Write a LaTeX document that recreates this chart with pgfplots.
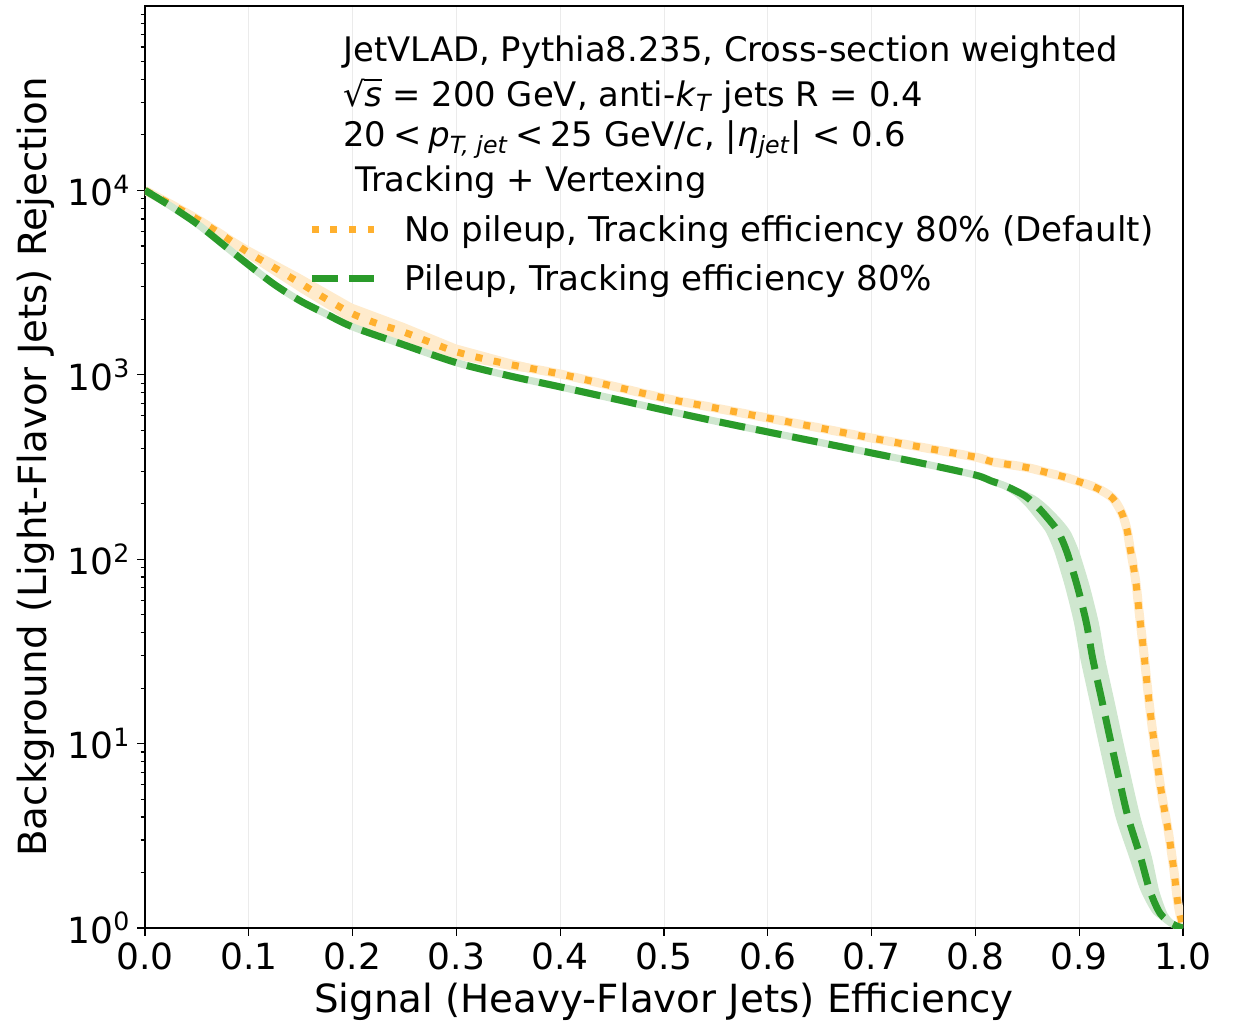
\documentclass[border=0pt]{standalone}
\usepackage{fontspec}
\setmainfont{DejaVu Sans}
\usepackage{pgfplots}
\usepackage{pgfplotstable}
\pgfplotsset{compat=1.18}

\definecolor{oline}{HTML}{FFB02E}
\definecolor{oband}{HTML}{FFEBCC}
\definecolor{gline}{HTML}{2A9B2A}
\definecolor{gband}{HTML}{CFE7CF}
\definecolor{gridc}{HTML}{EBEBEB}

% sqrt(s) set in the text font
\newcommand{\rts}{\mbox{√\kern-0.02em\rlap{\rule[0.74em]{0.52em}{0.055em}}\textit{s}}}

% ROC curve, no pileup (tracking efficiency 80%)
\pgfplotstableread{
x      y
0.000  10000
0.025  8400
0.050  7000
0.075  5700
0.100  4590
0.125  3800
0.150  3130
0.175  2570
0.200  2140
0.225  1885
0.250  1700
0.300  1333
0.350  1143
0.400  1010
0.450  870
0.500  748
0.550  660
0.600  583
0.650  515
0.700  454
0.750  403
0.800  358
0.817  337
0.850  314
0.867  297
0.885  280
0.901  262
0.917  243
0.932  215
0.941  178
0.946  145
0.949  115
0.952  93
0.955  72
0.958  50
0.962  32
0.966  19.6
0.970  12.6
0.975  7.9
0.980  5.1
0.986  3.3
0.991  2.1
0.995  1.37
1.000  1.0
}\nopileup

% ROC curve, with pileup (tracking efficiency 80%)
\pgfplotstableread{
x      y
0.000  10000
0.025  8200
0.050  6600
0.075  5100
0.100  3940
0.125  3080
0.150  2510
0.175  2130
0.200  1820
0.250  1450
0.300  1164
0.350  990
0.400  860
0.450  745
0.500  644
0.550  560
0.600  490
0.650  430
0.700  377
0.750  330
0.800  286
0.815  266
0.830  248
0.848  220
0.860  192
0.872  161
0.880  140
0.888  110
0.898  72
0.907  45
0.913  29
0.922  17
0.930  10.5
0.938  6.6
0.947  4.0
0.959  2.43
0.968  1.6
0.978  1.2
0.990  1.05
1.000  1.0
}\pileup

\begin{document}
\begin{tikzpicture}
\begin{axis}[
  name=ax,
  scale only axis,
  width=519pt, height=461pt,
  xmin=0, xmax=1, ymin=1, ymax=1e5,
  ymode=log,
  no markers,
  xtick={0,0.1,0.2,0.3,0.4,0.5,0.6,0.7,0.8,0.9,1.0},
  xticklabels={0.0,0.1,0.2,0.3,0.4,0.5,0.6,0.7,0.8,0.9,1.0},
  ytick={1,10,100,1000,10000},
  yticklabels={10\textsuperscript{0},10\textsuperscript{1},10\textsuperscript{2},10\textsuperscript{3},10\textsuperscript{4}},
  minor ytick={2,3,4,5,6,7,8,9,20,30,40,50,60,70,80,90,200,300,400,500,600,700,800,900,2000,3000,4000,5000,6000,7000,8000,9000,20000,30000,40000,50000,60000,70000,80000,90000},
  tick pos=left,
  tick align=outside,
  major tick length=3.8pt,
  minor tick length=2.2pt,
  every tick/.style={black, line width=0.6pt},
  axis line style={line width=0.8pt},
  xmajorgrids,
  ymajorgrids=false,
  major x grid style={gridc, line width=0.5pt},
  ticklabel style={font=\fontsize{18}{18}\selectfont},
  xlabel={Signal (Heavy-Flavor Jets) Efficiency},
  ylabel={Background (Light-Flavor Jets) Rejection},
  label style={font=\fontsize{19.4}{19.4}\selectfont},
  xlabel style={at={(axis description cs:0.5,-0.0911)}, anchor=base},
  ylabel style={at={(axis description cs:-0.0949,0.5)}, anchor=base},
  legend style={at={(axis description cs:0.157,0.7733)}, anchor=north west,
    draw=none, fill=none, inner sep=0pt, row sep=10pt, column sep=13.5pt,
    font=\fontsize{17.05}{17.05}\selectfont, nodes={inner sep=0pt}},
  legend cell align=left,
  legend image code/.code={\draw[#1] (0pt,0pt) -- (31pt,0pt);},
]
% uncertainty bands
\addplot[draw=none, fill=oband, forget plot] coordinates {
  (0,10000) (0.05,7330) (0.1,4975) (0.15,3512) (0.2,2429) (0.25,1907)
  (0.3,1461) (0.35,1225) (0.4,1045) (0.45,886) (0.5,748)
  (0.45,854) (0.4,976) (0.35,1066) (0.3,1216) (0.25,1515) (0.2,1885)
  (0.15,2790) (0.1,4234) (0.05,6686) (0,10000)} -- cycle;
\addplot[oband, line width=4.5pt, line join=round, smooth, tension=0.5, forget plot] table[x=x,y=y] {\nopileup};
\addplot[draw=none, fill=gband, smooth, tension=0.4, forget plot] coordinates {
  (0.800,286) (0.819,266) (0.837,248) (0.858,220) (0.871,192) (0.884,161)
  (0.892,140) (0.900,110) (0.910,72) (0.919,45) (0.925,29) (0.934,17)
  (0.942,10.5) (0.950,6.6) (0.959,4.0) (0.970,2.43) (0.977,1.6) (0.985,1.2)
  (0.994,1.05) (1.0,1.0)
  (0.986,1.05) (0.971,1.2) (0.959,1.6) (0.948,2.43) (0.935,4.0) (0.926,6.6)
  (0.918,10.5) (0.910,17) (0.901,29) (0.895,45) (0.886,72) (0.876,110)
  (0.868,140) (0.860,161) (0.849,192) (0.838,220) (0.823,248) (0.811,266)
  (0.800,286)};
\addplot[gband, line width=3.6pt, line join=round, smooth, tension=0.5, forget plot] table[x=x,y=y] {\pileup};
% central curves
\addplot[oline, line width=3.5pt, dash pattern=on 3.5pt off 5.8pt, line join=round, smooth, tension=0.5] table[x=x,y=y] {\nopileup};
\addlegendentry{No pileup, Tracking efficiency 80\% (Default)}
\addplot[gline, line width=3.5pt, dash pattern=on 12.9pt off 5.6pt, line join=round, smooth, tension=0.5] table[x=x,y=y] {\pileup};
\addlegendentry{Pileup, Tracking efficiency 80\%}
% header text
\node[anchor=base west, inner sep=0pt, font=\fontsize{16.9}{16.9}\selectfont] at (axis description cs:0.1908,0.9393) {JetVLAD, Pythia8.235, Cross-section weighted};
\node[anchor=base west, inner sep=0pt, font=\fontsize{16.9}{16.9}\selectfont] at (axis description cs:0.1908,0.8915) {\rts{} = 200 GeV, anti-\textit{k}\textsubscript{\textit{T}} jets R = 0.4};
\node[anchor=base west, inner sep=0pt, font=\fontsize{16.9}{16.9}\selectfont] at (axis description cs:0.1908,0.8471) {20\kern0.2em<\kern0.2em\textit{p}\textsubscript{\textit{T, jet}}\kern0.2em<\kern0.2em25 GeV/\textit{c}, |\textit{η}\textsubscript{\textit{jet}}| < 0.6};
\node[anchor=base west, inner sep=0pt, font=\fontsize{16.9}{16.9}\selectfont] at (axis description cs:0.2023,0.7993) {Tracking + Vertexing};
\end{axis}
\path (ax.south west) ++(-72.5pt,-47.5pt) coordinate (bl);
\path (ax.north east) ++(26.5pt,3pt) coordinate (tr);
\path (bl) rectangle (tr);
\end{tikzpicture}
\end{document}
